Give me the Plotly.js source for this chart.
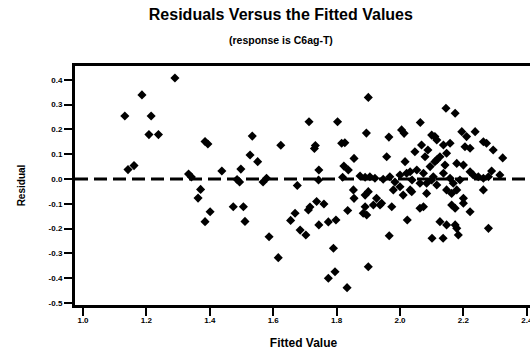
<!DOCTYPE html>
<html><head><meta charset="utf-8">
<script src="https://cdn.plot.ly/plotly-3.0.1.min.js"></script>
<style>html,body{margin:0;padding:0;overflow:hidden;background:#fff;}#chart{width:535px;height:351px;}</style>
</head><body><div id="chart"></div>
<script>
const chartTitle = "Residuals Versus the Fitted Values";
const subTitle = "(response is C6ag-T)";
const xLabel = "Fitted Value";
const yLabel = "Residual";
const xTickVals = [1.0, 1.2, 1.4, 1.6, 1.8, 2.0, 2.2, 2.4];
const xTickText = ["1.0", "1.2", "1.4", "1.6", "1.8", "2.0", "2.2", "2.4"];
const yTickVals = [0.4, 0.3, 0.2, 0.1, 0.0, -0.1, -0.2, -0.3, -0.4, -0.5];
const yTickText = ["0.4", "0.3", "0.2", "0.1", "0.0", "-0.1", "-0.2", "-0.3", "-0.4", "-0.5"];

const fitted = [
 1.290,1.186,1.132,1.215,1.208,1.238,1.385,1.394,1.142,1.161,
 1.333,1.342,1.438,1.498,1.486,1.494,1.534,1.624,1.527,1.551,
 1.568,1.579,1.676,1.371,1.363,1.401,1.385,1.474,1.506,1.511,
 1.587,1.616,1.669,1.655,1.685,1.703,1.713,1.711,1.716,1.803,
 1.733,1.730,1.816,1.826,1.855,1.744,1.743,1.823,1.837,1.819,
 1.853,1.855,1.737,1.760,1.744,1.774,1.798,1.835,1.790,1.795,
 1.774,1.833,1.900,1.894,1.965,2.005,2.013,2.064,2.100,2.110,
 1.958,1.890,1.921,1.947,1.874,1.900,2.016,2.047,2.068,2.079,
 2.021,2.053,2.095,2.116,2.000,2.032,2.063,2.100,2.084,1.979,
 1.968,2.000,2.032,1.926,1.942,1.974,2.010,2.037,1.890,1.884,
 1.916,2.023,2.063,2.074,1.966,2.101,2.136,2.126,2.074,2.105,
 2.084,2.116,2.145,2.174,2.195,2.237,2.210,2.205,2.221,2.263,
 2.273,2.294,2.324,2.116,2.137,2.158,2.147,2.126,2.110,2.179,
 2.200,2.289,2.263,2.279,2.231,2.247,2.137,2.158,2.168,2.179,
 2.147,2.263,2.200,2.221,2.315,2.163,2.163,2.174,2.200,2.221,
 2.147,2.174,2.179,2.184,2.279,1.900,1.890,1.895,1.937,1.905,
 2.038,2.088,2.142,2.189,1.984
];
const residual = [
 0.407,0.339,0.254,0.254,0.179,0.179,0.151,0.141,0.038,0.054,
 0.020,0.008,0.032,0.040,-0.002,-0.012,0.173,0.136,0.097,0.070,
 -0.012,0.003,-0.026,-0.042,-0.077,-0.132,-0.172,-0.112,-0.112,-0.171,
 -0.233,-0.317,-0.138,-0.167,-0.206,-0.226,0.231,-0.125,-0.113,0.231,
 0.135,0.123,0.144,0.146,0.083,0.036,-0.004,0.052,0.036,0.007,
 -0.044,-0.078,-0.091,-0.101,-0.185,-0.173,-0.165,-0.127,-0.279,-0.374,
 -0.400,-0.438,0.329,0.185,0.169,0.198,0.184,0.228,0.177,0.171,
 0.090,0.007,0.003,-0.001,0.012,-0.051,0.070,0.110,0.137,0.090,
 0.023,0.036,0.050,0.077,-0.031,-0.044,-0.017,-0.004,-0.058,-0.044,
 0.009,0.016,0.029,-0.078,-0.098,-0.112,-0.065,-0.051,-0.112,-0.138,
 -0.105,-0.165,-0.118,-0.112,-0.229,-0.239,-0.239,-0.172,0.023,0.009,
 -0.017,-0.024,0.285,0.265,0.191,0.191,0.171,0.130,0.124,0.150,
 0.144,0.117,0.085,0.157,0.137,0.144,0.104,0.090,0.070,0.063,
 0.056,0.032,0.003,0.009,0.016,0.009,0.023,0.003,-0.017,-0.044,
 -0.044,-0.044,-0.078,0.029,0.016,-0.058,-0.105,-0.118,-0.098,-0.132,
 -0.185,-0.185,-0.199,-0.226,-0.199,-0.354,-0.065,-0.145,-0.105,0.009,
 -0.004,0.117,0.056,-0.004,-0.012
];

const F = "Liberation Sans, Arial, sans-serif";
const trace = {
  x: fitted, y: residual, type: "scatter", mode: "markers",
  marker: {symbol: "diamond", size: 7, color: "#000"},
  hoverinfo: "skip"
};
const layout = {
  width: 535, height: 351,
  margin: {l: 75, r: 3, t: 66, b: 46},
  paper_bgcolor: "#fff", plot_bgcolor: "#fff",
  showlegend: false,
  font: {family: F, color: "#000"},
  title: {text: "<b>" + chartTitle + "</b>", font: {size: 16, family: F, color: "#000"},
          x: 0.525, xanchor: "center", y: 0.958, yanchor: "middle", xref: "container", yref: "container"},
  annotations: [{
    text: "<b>" + subTitle + "</b>", xref: "paper", yref: "paper",
    x: (281 - 75) / 457, y: (305 - 40) / 239, xanchor: "center", yanchor: "middle",
    showarrow: false, font: {size: 10.5, family: F, color: "#000"}
  }],
  xaxis: {
    range: [0.9748, 2.4164], tickvals: xTickVals, ticktext: xTickText,
    showgrid: false, zeroline: false, showline: true, mirror: true,
    linecolor: "#000", linewidth: 3, ticks: "outside", ticklen: 8, tickwidth: 2, tickcolor: "#000",
    ticklabelstandoff: -3,
    tickfont: {size: 8, family: F, color: "#000", weight: "bold"},
    title: {text: "<b>" + xLabel + "</b>", font: {size: 12, family: F, color: "#000"}, standoff: 16}
  },
  yaxis: {
    range: [-0.508, 0.4556], tickvals: yTickVals, ticktext: yTickText,
    showgrid: false, zeroline: false, showline: true, mirror: true,
    linecolor: "#000", linewidth: 3, ticks: "outside", ticklen: 8, tickwidth: 2, tickcolor: "#000",
    tickfont: {size: 8, family: F, color: "#000", weight: "bold"},
    title: {text: "<b>" + yLabel + "</b>", font: {size: 10, family: F, color: "#000"}, standoff: 22}
  },
  shapes: [{
    type: "line", xref: "paper", x0: 0, x1: 1, yref: "y", y0: 0, y1: 0,
    line: {color: "#000", width: 3, dash: "13px,6px"}
  }]
};
Plotly.newPlot("chart", [trace], layout, {staticPlot: true, displayModeBar: false});
</script>
</body></html>
